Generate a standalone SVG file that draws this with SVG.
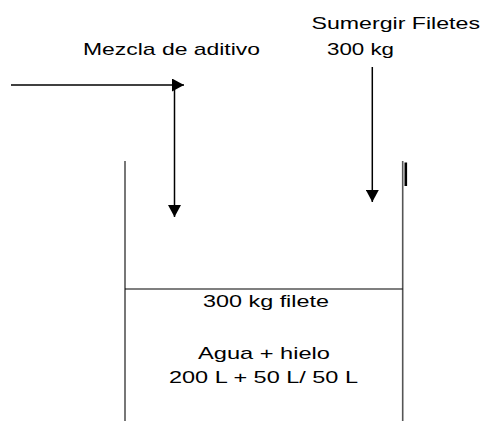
<svg xmlns="http://www.w3.org/2000/svg" width="483" height="421" viewBox="0 0 483 421">
<style>
.t{font-family:"Liberation Sans",Arial,sans-serif;font-size:17px;fill:#000}
.c{stroke:#000;stroke-width:1.5;fill:none}
.w{stroke:#555;stroke-width:1.6;fill:none}
</style>
<defs>
<marker id="ah" markerUnits="userSpaceOnUse" markerWidth="12" markerHeight="13" refX="12" refY="6.5" orient="auto">
<path d="M0,0 L12,6.5 L0,13 Z" fill="#000"/>
</marker>
</defs>
<rect width="483" height="421" fill="#fff"/>
<g id="tank">
<line class="w" x1="125" y1="161" x2="125" y2="421"/>
<line class="w" x1="402.7" y1="161" x2="402.7" y2="421"/>
<line x1="125" y1="289" x2="402.7" y2="289" stroke="#000" stroke-width="1.2"/>
<rect x="404.5" y="162.5" width="2.6" height="23.5" fill="#000"/>
</g>
<g id="labels">
<text class="t" x="83" y="55" textLength="177" lengthAdjust="spacingAndGlyphs">Mezcla de aditivo</text>
<text class="t" x="311.5" y="29" textLength="168.5" lengthAdjust="spacingAndGlyphs">Sumergir Filetes</text>
<text class="t" x="327" y="55" textLength="67" lengthAdjust="spacingAndGlyphs">300 kg</text>
<text class="t" x="203" y="307" textLength="126" lengthAdjust="spacingAndGlyphs">300 kg filete</text>
<text class="t" x="198" y="359" textLength="132" lengthAdjust="spacingAndGlyphs">Agua + hielo</text>
<text class="t" x="169" y="383" textLength="189" lengthAdjust="spacingAndGlyphs">200 L + 50 L/ 50 L</text>
</g>
<g id="connectors">
<line class="c" x1="11" y1="85" x2="184" y2="85" marker-end="url(#ah)"/>
<line class="c" x1="174.5" y1="85" x2="174.5" y2="217" marker-end="url(#ah)"/>
<line class="c" x1="372.3" y1="67" x2="372.3" y2="202" marker-end="url(#ah)"/>
</g>
</svg>
